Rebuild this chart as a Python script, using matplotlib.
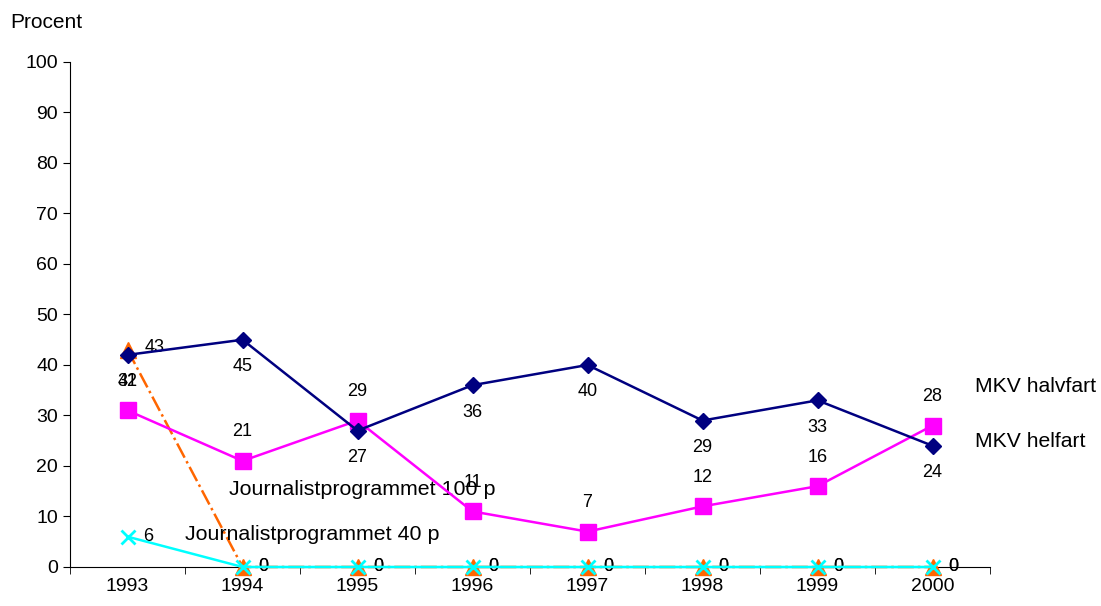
import numpy as np
import matplotlib
matplotlib.use('Agg')
import matplotlib.pyplot as plt

plt.rcParams['font.family'] = ['Liberation Sans', 'DejaVu Sans']

years = ['1993', '1994', '1995', '1996', '1997', '1998', '1999', '2000']
halvfart = [42, 45, 27, 36, 40, 29, 33, 24]
helfart = [31, 21, 29, 11, 7, 12, 16, 28]
journ100 = [43, 0, 0, 0, 0, 0, 0, 0]
journ40 = [6, 0, 0, 0, 0, 0, 0, 0]

x = np.arange(len(years))

fig = plt.figure(figsize=(11.01, 6.06), dpi=100)
ax = fig.add_axes([0.0636, 0.0644, 0.8356, 0.8333])

ax.plot(x, journ100, color='#ff6600', linestyle='-.', lw=1.8, marker='^', ms=11, zorder=3, clip_on=False)
ax.plot(x, journ40, color='#00ffff', linestyle='-', lw=1.8, marker='x', ms=10, mew=2, zorder=4, clip_on=False)
ax.plot(x, helfart, color='#ff00ff', lw=1.8, marker='s', ms=11.5, zorder=5)
ax.plot(x, halvfart, color='#000080', lw=1.8, marker='D', ms=8.5, zorder=6)

# data labels
fs = 13
for i in range(len(x)):
    ax.annotate(str(halvfart[i]), (x[i], halvfart[i]), xytext=(0, -27), textcoords='offset pixels',
                ha='center', va='center', fontsize=fs)
    ax.annotate(str(helfart[i]), (x[i], helfart[i]), xytext=(0, 29), textcoords='offset pixels',
                ha='center', va='center', fontsize=fs)
    ax.annotate(str(journ100[i]), (x[i], journ100[i]), xytext=(27 if i == 0 else 21, 2 if i == 0 else 0),
                textcoords='offset pixels', ha='center', va='center', fontsize=fs)
    ax.annotate(str(journ40[i]), (x[i], journ40[i]), xytext=(21, 0), textcoords='offset pixels',
                ha='center', va='center', fontsize=fs)

# series names
ax.text(7.37, 35.8, 'MKV halvfart', fontsize=15.2, va='center', ha='left', clip_on=False)
ax.text(7.37, 24.9, 'MKV helfart', fontsize=15.2, va='center', ha='left', clip_on=False)
ax.text(0.88, 15.3, 'Journalistprogrammet 100 p', fontsize=15.4, va='center', ha='left')
ax.text(0.5, 6.4, 'Journalistprogrammet 40 p', fontsize=15.4, va='center', ha='left')

ax.set_xlim(-0.5, 7.5)
ax.set_ylim(0, 100)
ax.set_yticks(range(0, 101, 10))
ax.set_xticks(x)
ax.set_xticklabels(years)
ax.set_xticks(np.arange(-0.5, 8, 1), minor=True)
ax.tick_params(axis='x', which='major', length=0, labelsize=14, pad=8)
ax.tick_params(axis='x', which='minor', length=5)
ax.tick_params(axis='y', length=5, labelsize=14)
ax.spines['top'].set_visible(False)
ax.spines['right'].set_visible(False)

fig.text(10 / 1101, 1 - 22 / 606, 'Procent', fontsize=15, va='center', ha='left')

fig.savefig('out.png', dpi=100)
